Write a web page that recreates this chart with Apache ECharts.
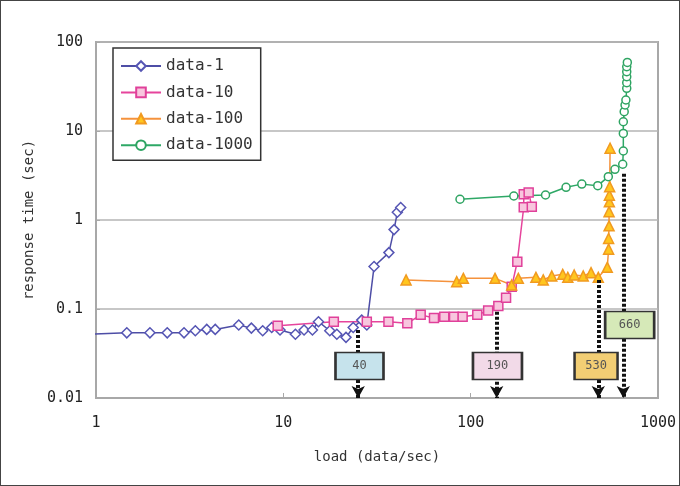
<!DOCTYPE html>
<html>
<head>
<meta charset="utf-8">
<script src="https://cdn.jsdelivr.net/npm/echarts@6/dist/echarts.min.js"></script>
<style>
html,body{margin:0;padding:0;background:#fff;}
#wrap{position:relative;width:680px;height:486px;}
#chart{position:absolute;left:0;top:0;width:680px;height:486px;}
#frame{position:absolute;left:0;top:0;width:680px;height:486px;box-sizing:border-box;border:1px solid #444;pointer-events:none;}
</style>
</head>
<body>
<div id="wrap"><div id="chart"></div><div id="frame"></div></div>
<script>
// ---- data ----
const seriesNames = ['data-1', 'data-10', 'data-100', 'data-1000'];

const data1X = [0.9, 1.46, 1.94, 2.40, 2.95, 3.39, 3.90, 4.33, 5.78, 6.75, 7.76, 8.67, 9.60, 11.6, 12.9, 14.3, 15.4, 17.7, 19.3, 21.6, 23.6, 26.2, 27.9, 30.5, 36.6, 39.0, 40.6, 42.3];
const data1Y = [0.052, 0.054, 0.054, 0.054, 0.054, 0.057, 0.059, 0.059, 0.066, 0.061, 0.057, 0.062, 0.058, 0.052, 0.058, 0.058, 0.072, 0.057, 0.052, 0.048, 0.062, 0.075, 0.066, 0.30, 0.43, 0.78, 1.22, 1.38];

const data10X = [9.33, 18.6, 27.9, 36.4, 45.9, 54.1, 63.7, 72.3, 81.5, 90.6, 108.5, 124, 140.5, 154.5, 165.6, 177.4, 192, 192, 204, 212];
const data10Y = [0.065, 0.072, 0.072, 0.072, 0.069, 0.086, 0.079, 0.082, 0.082, 0.082, 0.086, 0.096, 0.108, 0.134, 0.178, 0.34, 1.39, 1.95, 2.04, 1.41];

const data100X = [45.2, 84.2, 91.4, 134.9, 165.6, 179.6, 223, 244, 271, 310, 330, 357, 399, 439, 480, 536, 545, 545, 548, 548, 550, 550, 552, 555];
const data100Y = [0.212, 0.203, 0.221, 0.221, 0.186, 0.221, 0.227, 0.212, 0.235, 0.245, 0.227, 0.241, 0.235, 0.256, 0.227, 0.294, 0.47, 0.62, 0.86, 1.24, 1.6, 1.9, 2.37, 6.4];

const data1000X = [87.7, 170, 251, 323, 392, 477, 543, 589, 648, 653, 653, 653, 660, 667, 674, 681, 681, 681, 681, 681, 686];
const data1000Y = [1.71, 1.86, 1.91, 2.33, 2.53, 2.43, 3.07, 3.71, 4.23, 5.96, 9.4, 12.7, 16.5, 19.6, 22.3, 30.2, 34.9, 40.7, 46.4, 52.7, 58.9];

// annotations: arrow lines and labelled boxes
const annoLabels = ['40', '190', '530', '660'];
const annoLineX = [25.1, 137.7, 480, 653];
const annoLineTopY = [0.058, 0.093, 0.212, 3.3];
const annoBoxX = [25.5, 139, 467, 706];
const annoBoxY = [0.0229, 0.0229, 0.0229, 0.066];
const annoBoxColors = ['#C6E3EC', '#F2DAE8', '#F2CE74', '#D6E9B8'];

const xTicks = [1, 10, 100, 1000];
const yTicks = [0.01, 0.1, 1, 10, 100];

// ---- chart ----
const MONO = '"DejaVu Sans Mono", monospace';
const zip = (xs, ys) => xs.map((x, i) => [x, ys[i]]);

const styles = [
  {line: '#4E4EA6', fill: '#FFFFFF', border: '#5656B4', symbol: 'diamond', size: 10},
  {line: '#E6449C', fill: '#F8C6DE', border: '#E0409A', symbol: 'rect', size: 9},
  {line: '#F5923C', fill: '#FFC61E', border: '#F19A20', symbol: 'triangle', size: 10},
  {line: '#2EA866', fill: '#FFFFFF', border: '#2EA462', symbol: 'circle', size: 8}
];
const allData = [zip(data1X, data1Y), zip(data10X, data10Y), zip(data100X, data100Y), zip(data1000X, data1000Y)];

const series = seriesNames.map((name, i) => ({
  name: name,
  type: 'line',
  data: allData[i],
  symbol: styles[i].symbol,
  symbolSize: styles[i].size,
  showAllSymbol: true,
  clip: true,
  z: 3,
  lineStyle: {color: styles[i].line, width: 1.5},
  itemStyle: {color: styles[i].fill, borderColor: styles[i].border, borderWidth: 1.5}
}));

series.push({
  name: 'anno-lines',
  type: 'scatter',
  data: [],
  z: 4,
  markLine: {
    silent: true,
    animation: false,
    z: 4,
    symbol: ['none', 'arrow'],
    symbolSize: [10, 12],
    label: {show: false},
    lineStyle: {color: '#111', width: 4, type: [3, 2]},
    itemStyle: {color: '#111'},
    data: annoLineX.map((x, i) => [{coord: [x, annoLineTopY[i]]}, {coord: [x, 0.01]}])
  }
});

series.push({
  name: 'anno-boxes',
  type: 'scatter',
  data: [],
  z: 6,
  markPoint: {
    silent: true,
    animation: false,
    z: 6,
    symbol: 'rect',
    data: annoLabels.map((t, i) => ({
      coord: [annoBoxX[i], annoBoxY[i]],
      value: t,
      symbolSize: [t.length === 2 ? 48 : (t === '530' ? 43 : 49), 27],
      itemStyle: {color: annoBoxColors[i], borderColor: '#333', borderWidth: 2},
      label: {show: true, position: 'inside', formatter: t, color: '#555', fontSize: 12, fontFamily: MONO}
    }))
  }
});

const chart = echarts.init(document.getElementById('chart'), null, {renderer: 'canvas'});
chart.setOption({
  animation: false,
  backgroundColor: '#fff',
  grid: {left: 96, right: 22, top: 42, bottom: 88, show: true, borderColor: '#A8A8A8', borderWidth: 2, backgroundColor: 'transparent'},
  legend: {
    data: seriesNames,
    orient: 'vertical',
    left: 113,
    top: 48,
    itemWidth: 40,
    itemHeight: 12,
    itemGap: 10.4,
    padding: [10, 8, 7, 7],
    borderColor: '#333',
    borderWidth: 1.5,
    backgroundColor: '#fff',
    textStyle: {fontFamily: MONO, fontSize: 16, color: '#333'}
  },
  xAxis: {
    type: 'log',
    logBase: 10,
    min: xTicks[0],
    max: xTicks[xTicks.length - 1],
    name: 'load (data/sec)',
    nameLocation: 'middle',
    nameGap: 52,
    nameTextStyle: {fontFamily: MONO, fontSize: 14, color: '#333'},
    axisLine: {show: true, lineStyle: {color: '#A8A8A8', width: 2}},
    axisTick: {show: true, inside: true, length: 5, lineStyle: {color: '#A8A8A8', width: 1}},
    axisLabel: {fontFamily: MONO, fontSize: 15, color: '#222', margin: 18, formatter: v => String(Math.round(v))},
    splitLine: {show: false}
  },
  yAxis: {
    type: 'log',
    logBase: 10,
    min: yTicks[0],
    max: yTicks[yTicks.length - 1],
    name: 'response time (sec)',
    nameLocation: 'middle',
    nameGap: 51,
    nameTextStyle: {fontFamily: MONO, fontSize: 14, color: '#333'},
    axisLine: {show: true, lineStyle: {color: '#A8A8A8', width: 2}},
    axisTick: {show: true, inside: true, length: 4, lineStyle: {color: '#A8A8A8', width: 1}},
    axisLabel: {fontFamily: MONO, fontSize: 15, color: '#222', margin: 13, formatter: v => (v < 1 ? String(+v.toPrecision(1)) : String(Math.round(v)))},
    splitLine: {show: true, lineStyle: {color: '#B4B4B4', width: 1.5}}
  },
  series: series
});
</script>
</body>
</html>
